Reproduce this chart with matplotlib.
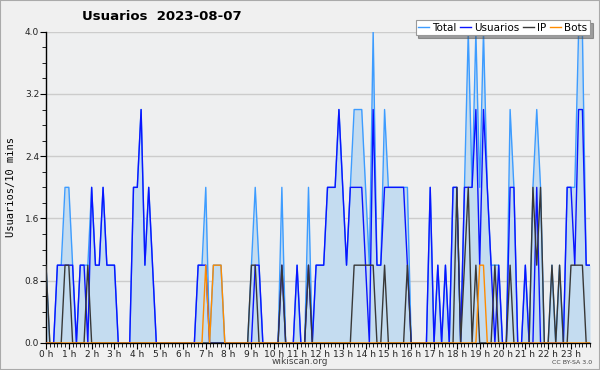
import matplotlib
matplotlib.use("Agg")
import matplotlib.pyplot as plt
from matplotlib.patches import Rectangle
import numpy as np

# 10-minute samples, 6 per hour, 24 hours
hour_labels = [f"{h} h" for h in range(24)]

total = [1,0,0,1,1,2, 2,1,0,1,1,1, 2,1,1,2,1,1, 1,0,0,0,0,2,
         2,3,1,2,1,0, 0,0,0,0,0,0, 0,0,0,0,1,1, 2,0,1,1,1,0,
         0,0,0,0,0,0, 1,2,1,0,0,0, 0,0,2,0,0,0, 1,0,0,2,0,1,
         1,1,2,2,2,3, 2,1,2,3,3,3, 2,1,4,1,1,3, 2,2,2,2,2,2,
         0,0,0,0,0,2, 0,1,0,1,0,2, 2,0,2,4,2,4, 2,4,2,1,1,1,
         0,0,3,2,0,0, 1,0,2,3,2,0, 0,1,0,1,0,2, 2,2,4,4,1,1]

usuarios = [0,0,0,1,1,1, 1,1,0,1,1,0, 2,1,1,2,1,1, 1,0,0,0,0,2,
            2,3,1,2,1,0, 0,0,0,0,0,0, 0,0,0,0,1,1, 1,0,0,0,0,0,
            0,0,0,0,0,0, 0,1,1,0,0,0, 0,0,1,0,0,0, 1,0,0,1,0,1,
            1,1,2,2,2,3, 2,1,2,2,2,2, 1,0,3,1,1,2, 2,2,2,2,2,1,
            0,0,0,0,0,2, 0,1,0,1,0,2, 2,0,2,2,2,3, 1,3,2,1,0,1,
            0,0,2,2,0,0, 1,0,0,2,0,0, 0,0,0,0,0,2, 2,1,3,3,1,1]

ip = [1,0,0,0,0,1, 1,0,0,0,0,1, 0,0,0,0,0,0, 0,0,0,0,0,0,
      0,0,0,0,0,0, 0,0,0,0,0,0, 0,0,0,0,0,0, 0,0,0,0,0,0,
      0,0,0,0,0,0, 1,1,0,0,0,0, 0,0,1,0,0,0, 0,0,0,1,0,0,
      0,0,0,0,0,0, 0,0,0,1,1,1, 1,1,1,0,0,1, 0,0,0,0,0,1,
      0,0,0,0,0,0, 0,0,0,0,0,0, 2,0,1,2,0,1, 0,0,0,0,1,0,
      0,0,1,0,0,0, 0,0,2,1,2,0, 0,1,0,1,0,0, 1,1,1,1,0,0]

bots = [0,0,0,0,0,0, 0,0,0,0,0,0, 0,0,0,0,0,0, 0,0,0,0,0,0,
        0,0,0,0,0,0, 0,0,0,0,0,0, 0,0,0,0,0,0, 1,0,1,1,1,0,
        0,0,0,0,0,0, 0,0,0,0,0,0, 0,0,0,0,0,0, 0,0,0,0,0,0,
        0,0,0,0,0,0, 0,0,0,0,0,0, 0,0,0,0,0,0, 0,0,0,0,0,0,
        0,0,0,0,0,0, 0,0,0,0,0,0, 0,0,0,0,0,0, 1,1,0,0,0,0,
        0,0,0,0,0,0, 0,0,0,0,0,0, 0,0,0,0,0,0, 0,0,0,0,0,0]

x = np.arange(len(total))

fig = plt.figure(figsize=(6, 3.7), dpi=100, facecolor="#f0f0f0")
ax = fig.add_axes([46/600, 1-343/370, 544/600, (343-31.7)/370])
ax.set_facecolor("#eeeff0")

ax.fill_between(x, total, 0, color="#c4dcf0", lw=0, zorder=1)
ax.plot(x, total, color="#3d9cff", lw=1.0, label="Total", zorder=2)
ax.plot(x, usuarios, color="#0a14ff", lw=1.0, label="Usuarios", zorder=3)
ax.plot(x, ip, color="#383838", lw=1.0, label="IP", zorder=4)
ax.plot(x, bots, color="#ff8c00", lw=1.0, label="Bots", zorder=5)

ax.set_xlim(0, len(total) - 1)
ax.set_ylim(0, 4.0)
ax.set_yticks(np.arange(0, 4.01, 0.8))
ax.set_yticklabels([f"{v:.1f}" for v in np.arange(0, 4.01, 0.8)])
ax.set_yticks(np.arange(0, 4.01, 0.2), minor=True)
ax.set_xticks(np.arange(0, 144, 6))
ax.set_xticklabels(hour_labels)
ax.set_xticks(np.arange(0, 144, 1), minor=True)
ax.grid(axis="y", which="major", color="#cccccc", lw=1.0, zorder=0)
ax.set_axisbelow(True)
for s in ("top", "right"):
    ax.spines[s].set_visible(False)
for s in ("left", "bottom"):
    ax.spines[s].set_color("black")
    ax.spines[s].set_linewidth(1.0)
ax.tick_params(axis="both", which="major", labelsize=6.5, length=4, width=0.8,
               pad=1, colors="black", labelcolor="#222222")
ax.tick_params(axis="both", which="minor", length=3, width=0.6)

ax.set_ylabel("Usuarios/10 mins", fontsize=7.5, family="DejaVu Sans Mono", labelpad=6)

fig.text(82/600, 1-17/370, "Usuarios  2023-08-07", fontsize=9.5, fontweight="bold",
         ha="left", va="center")
fig.text(300/600, 1-362/370, "wikiscan.org", fontsize=6.5, color="#444444",
         ha="center", va="center")
fig.text(592/600, 1-363/370, "CC BY-SA 3.0", fontsize=4.5, color="#444444",
         ha="right", va="center")

leg = fig.legend(loc="upper right", bbox_to_anchor=(590/600, 1-20/370), ncol=4,
                 fontsize=7.5, frameon=True, fancybox=False, shadow=True,
                 handlelength=1.0, handletextpad=0.35, columnspacing=0.35,
                 borderpad=0.25, borderaxespad=0)
leg.get_frame().set_edgecolor("#999999")
leg.get_frame().set_facecolor("white")
leg.get_frame().set_linewidth(0.8)

fig.patches.append(Rectangle((0, 0), 1, 1, transform=fig.transFigure, fill=False,
                             edgecolor="#aaaaaa", lw=1.5, zorder=10))

fig.savefig("out.png", dpi=100, facecolor=fig.get_facecolor())
